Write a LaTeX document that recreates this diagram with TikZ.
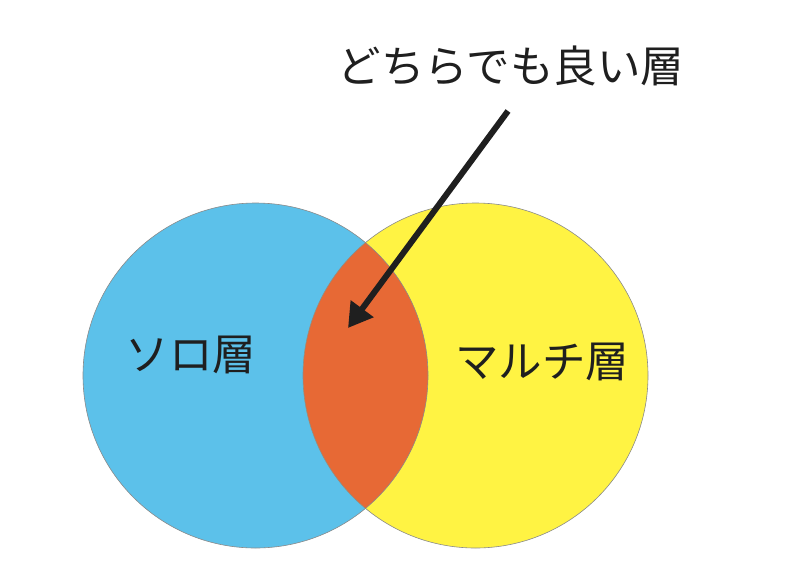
\documentclass[tikz,border=0pt]{standalone}
\usepackage{fontspec}
\newfontfamily\jpfont{Noto Sans CJK JP}
\usetikzlibrary{arrows.meta}
\definecolor{soloblue}{HTML}{5CC1EA}
\definecolor{multiyellow}{HTML}{FFF343}
\definecolor{bothorange}{HTML}{E76935}
\definecolor{rimgray}{HTML}{8A8A8A}
\begin{document}
\begin{tikzpicture}[x=1pt,y=-1pt,
	label/.style={font=\jpfont\fontsize{43.5}{43.5}\selectfont, text=black!88, inner sep=0pt},
	rim/.style={draw=rimgray, line width=0.6pt}]
	\useasboundingbox (0,0) rectangle (800,587);
	\coordinate (SoloCenter)  at (255.5,375.5);
	\coordinate (MultiCenter) at (475.5,375.5);
	\coordinate (ArrowTail)   at (508,111);
	\coordinate (ArrowTip)    at (348,328);
	
	\fill [soloblue] (SoloCenter) circle (172.5);% left set
	\fill [multiyellow] (MultiCenter) circle (172.5);% right set
	\begin{scope}
		\clip (SoloCenter) circle (172.5);
		\fill [bothorange] (MultiCenter) circle (172.5);% overlap
	\end{scope}
	\draw [rim] (SoloCenter) circle (172.5);
	\draw [rim] (MultiCenter) circle (172.5);
	
	\node [label] (Title) at (511,66) {どちらでも良い層};
	\node [label] (Solo)  at (191,355) {ソロ層};
	\node [label] (Multi) at (542,362) {マルチ層};
	
	\draw [line width=6pt, black!88, -{Triangle[length=24pt,width=27pt]}] (ArrowTail) -- (ArrowTip);
	
\end{tikzpicture}
\end{document}
